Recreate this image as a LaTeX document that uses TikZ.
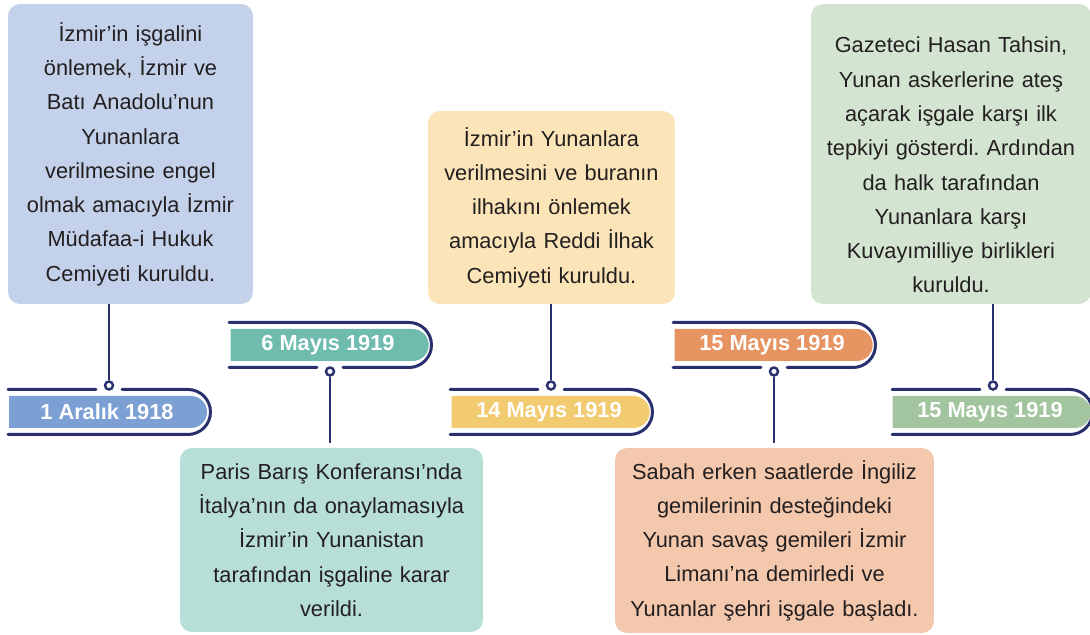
\documentclass[tikz,border=0pt]{standalone}
\usepackage{fontspec}
\setmainfont{Liberation Sans}
\usepackage{tikz}
\usetikzlibrary{shapes.misc,calc,positioning}
\definecolor{Lacivert}{RGB}{40,48,110}
\definecolor{Murekkep}{RGB}{35,31,32}
\definecolor{MaviKoyu}{RGB}{124,159,212}
\definecolor{MaviAcik}{RGB}{196,209,234}
\definecolor{CamKoyu}{RGB}{111,187,174}
\definecolor{CamAcik}{RGB}{184,223,215}
\definecolor{SariKoyu}{RGB}{242,202,112}
\definecolor{SariAcik}{RGB}{250,228,184}
\definecolor{TuruncKoyu}{RGB}{230,148,97}
\definecolor{TuruncAcik}{RGB}{244,200,173}
\definecolor{YesilKoyu}{RGB}{162,197,159}
\definecolor{YesilAcik}{RGB}{211,228,209}
\frenchspacing

\begin{document}
\begin{tikzpicture}[x=0.02cm,y=0.02cm,
  kutu/.style={rounded corners=0.24cm, inner sep=0.08cm, align=center,
    text=Murekkep, font=\fontsize{12.4}{19.5}\selectfont},
  tarih/.style={rounded rectangle, rounded rectangle left arc=none,
    minimum width=3.96cm, minimum height=0.64cm, inner sep=0pt,
    text=white, font=\bfseries\fontsize{12.4}{14}\selectfont},
  cerceve/.style={draw=Lacivert, line width=1.7pt, line cap=round},
  dugum/.style={circle, draw=Lacivert, fill=white, line width=1.4pt,
    minimum size=0.16cm, inner sep=0pt},
  sap/.style={draw=Lacivert, line width=1.7pt}]
\useasboundingbox (0,0) rectangle (1090,635);
%
% aciklama kutulari
\node[kutu, fill=MaviAcik, text width=4.74cm, minimum height=6cm] (k1) at (130.5,481)
  {İzmir’in işgalini\\önlemek, İzmir ve\\Batı Anadolu’nun\\Yunanlara\\verilmesine engel\\olmak amacıyla İzmir\\Müdafaa-i Hukuk\\Cemiyeti kuruldu.};
\node[kutu, fill=CamAcik, text width=5.9cm, minimum height=3.68cm] (k2) at (331.5,95)
  {Paris Barış Konferansı’nda\\İtalya’nın da onaylamasıyla\\İzmir’in Yunanistan\\tarafından işgaline karar\\verildi.};
\node[kutu, fill=SariAcik, text width=4.78cm, minimum height=3.86cm] (k3) at (551.5,427.5)
  {İzmir’in Yunanlara\\verilmesini ve buranın\\ilhakını önlemek\\amacıyla Reddi İlhak\\Cemiyeti kuruldu.};
\node[kutu, fill=TuruncAcik, text width=6.22cm, minimum height=3.7cm] (k4) at (774.5,94.5)
  {Sabah erken saatlerde İngiliz\\gemilerinin desteğindeki\\Yunan savaş gemileri İzmir\\Limanı’na demirledi ve\\Yunanlar şehri işgale başladı.};
\node[kutu, fill=YesilAcik, text width=5.44cm, minimum height=6cm] (k5) at (951,481)
  {\rule{0pt}{0.76cm}Gazeteci Hasan Tahsin,\\Yunan askerlerine ateş\\açarak işgale karşı ilk\\tepkiyi gösterdi. Ardından\\da halk tarafından\\Yunanlara karşı\\Kuvayımilliye birlikleri\\kuruldu.};
%
% tarih etiketleri
\node[tarih, fill=MaviKoyu] (t1) at (107,223) {1 Aralık 1918};
\node[tarih, fill=CamKoyu] (t2) at (328,290) {6 Mayıs 1919};
\node[tarih, fill=SariKoyu] (t3) at (549,223) {14 Mayıs 1919};
\node[tarih, fill=TuruncKoyu] (t4) at (772,290) {15 Mayıs 1919};
\node[tarih, fill=YesilKoyu] (t5) at (990,223) {15 Mayıs 1919};
%
% cerceveler
\draw[cerceve] (8,245.5) -- (96,245.5) (122,245.5) -- (188,245.5) arc[start angle=90,end angle=-90,radius=0.45cm] -- (8,200.5);
\draw[cerceve] (229,312.5) -- (409,312.5) arc[start angle=90,end angle=-90,radius=0.45cm] -- (343,267.5) (317,267.5) -- (229,267.5);
\draw[cerceve] (450,245.5) -- (538,245.5) (564,245.5) -- (630,245.5) arc[start angle=90,end angle=-90,radius=0.45cm] -- (450,200.5);
\draw[cerceve] (673,312.5) -- (853,312.5) arc[start angle=90,end angle=-90,radius=0.45cm] -- (787,267.5) (761,267.5) -- (673,267.5);
\draw[cerceve] (892,245.5) -- (980,245.5) (1006,245.5) -- (1070,245.5) arc[start angle=90,end angle=-90,radius=0.45cm] -- (892,200.5);
%
% baglanti noktalari
\node[dugum] (d1) at (109,249.5) {};
\node[dugum] (d2) at (330,263.5) {};
\node[dugum] (d3) at (551,249.5) {};
\node[dugum] (d4) at (774,263.5) {};
\node[dugum] (d5) at (993,249.5) {};
%
\draw[sap] (k1.south -| d1) -- (d1);
\draw[sap, shorten <=0.1cm] (k2.north -| d2) -- (d2);
\draw[sap] (k3.south -| d3) -- (d3);
\draw[sap, shorten <=0.1cm] (k4.north -| d4) -- (d4);
\draw[sap] (k5.south -| d5) -- (d5);
%
\end{tikzpicture}
\end{document}
